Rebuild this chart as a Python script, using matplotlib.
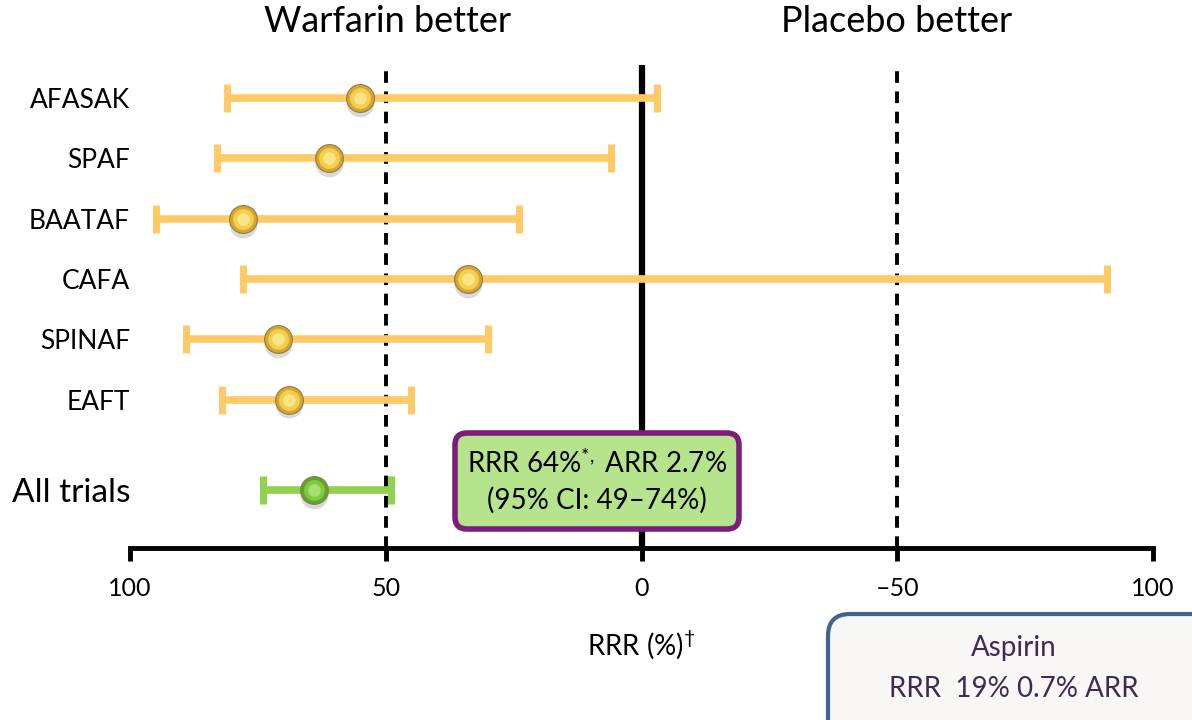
import matplotlib
matplotlib.use('Agg')
import matplotlib.pyplot as plt
from matplotlib.patches import FancyBboxPatch

plt.rcParams['font.family'] = ['Lato', 'DejaVu Sans']
plt.rcParams['mathtext.fontset'] = 'custom'
plt.rcParams['mathtext.rm'] = 'Lato'
plt.rcParams['mathtext.it'] = 'Lato'

# Warfarin vs placebo: relative risk reduction (%) with 95% CI
trials = ['AFASAK', 'SPAF', 'BAATAF', 'CAFA', 'SPINAF', 'EAFT']
rrr = [55, 61, 78, 34, 71, 69]
ci_low = [81, 83, 95, 78, 89, 82]
ci_high = [-3, 6, 24, -91, 30, 45]

pooled_label = 'All trials'
pooled_rrr = 64
pooled_low = 74
pooled_high = 49

xticks = [100, 50, 0, -50, -100]
xtick_labels = ['100', '50', '0', '\u201350', '100']

W, H = 1192, 720
fig = plt.figure(figsize=(W / 100, H / 100), dpi=100)
ax = fig.add_axes([130 / W, (H - 548) / H, 1023 / W, (548 - 65) / H])

ypos = list(range(len(trials)))
y_pooled = 6.5

bar_yellow = '#FFCA66'
bar_green = '#92D050'


def sphere(x, y, base, mid, light):
    # simple shaded ball with a soft drop shadow
    ax.plot(x, y + 0.08, 'o', ms=20, color='#555555', alpha=0.22, zorder=4, mec='none')
    ax.plot(x, y, 'o', ms=20, color=base, mec='#8a7a50', mew=0.8, zorder=5)
    ax.plot(x, y, 'o', ms=15, color=mid, mec='none', zorder=6)
    ax.plot(x, y, 'o', ms=9, color=light, mec='none', alpha=0.8, zorder=7)


for y, r, lo, hi in zip(ypos, rrr, ci_low, ci_high):
    ax.errorbar(r, y, xerr=[[r - hi], [lo - r]], fmt='none', ecolor=bar_yellow,
                elinewidth=5.5, capsize=10, capthick=5, zorder=3)
    sphere(r, y, '#D9A62A', '#F2CF50', '#FBEB94')

ax.errorbar(pooled_rrr, y_pooled, xerr=[[pooled_rrr - pooled_high], [pooled_low - pooled_rrr]],
            fmt='none', ecolor=bar_green, elinewidth=5.5, capsize=10, capthick=5, zorder=3)
sphere(pooled_rrr, y_pooled, '#5FA52A', '#80CA42', '#B4E47C')

ax.axvline(0, color='black', lw=4.5, zorder=2)
for v in (50, -50):
    ax.axvline(v, color='black', lw=2.8, ls=(0, (3, 2.2)), zorder=2)

ax.set_xlim(100, -100)
ax.set_ylim(7.46, -0.55)
ax.set_xticks(xticks)
ax.set_xticklabels(xtick_labels, fontsize=18)
ax.set_yticks(ypos + [y_pooled])
ax.set_yticklabels(trials + [pooled_label])
for lab in ax.get_yticklabels():
    lab.set_fontsize(24 if lab.get_text() == pooled_label else 19)
ax.tick_params(axis='y', length=0, pad=0)
ax.tick_params(axis='x', length=9, width=3.5, direction='out', pad=12)
for s in ('left', 'top', 'right'):
    ax.spines[s].set_visible(False)
ax.spines['bottom'].set_linewidth(3.5)
ax.patch.set_alpha(0)

ax.set_xlabel('RRR (%)$^{\u2020}$', fontsize=20, labelpad=20)

fig.text(387 / W, 1 - 22 / H, 'Warfarin better', fontsize=26, ha='center', va='center')
fig.text(897 / W, 1 - 22 / H, 'Placebo better', fontsize=26, ha='center', va='center')

# overlay in pixel units for the text boxes
ov = fig.add_axes([0, 0, 1, 1], zorder=10)
ov.set_xlim(0, W)
ov.set_ylim(H, 0)
ov.axis('off')

ov.add_patch(FancyBboxPatch((455, 433), 284, 96, boxstyle='round,pad=0,rounding_size=12',
                            fc='#B5E48C', ec='#7B1E7A', lw=4))
ov.text(597, 463, 'RRR 64%$^{*,}$ ARR 2.7%', fontsize=20, ha='center', va='center')
ov.text(597, 500, '(95% CI: 49\u201374%)', fontsize=20, ha='center', va='center')

ov.add_patch(FancyBboxPatch((828, 614), 400, 140, boxstyle='round,pad=0,rounding_size=22',
                            fc='#F9F7F5', ec='#41648F', lw=3, clip_on=True))
ov.text(1014, 648, 'Aspirin', fontsize=20, ha='center', va='center', color='#3F2B52')
ov.text(1014, 689, 'RRR  19% 0.7% ARR', fontsize=20, ha='center', va='center', color='#3F2B52')

fig.savefig('out.png', dpi=100)
